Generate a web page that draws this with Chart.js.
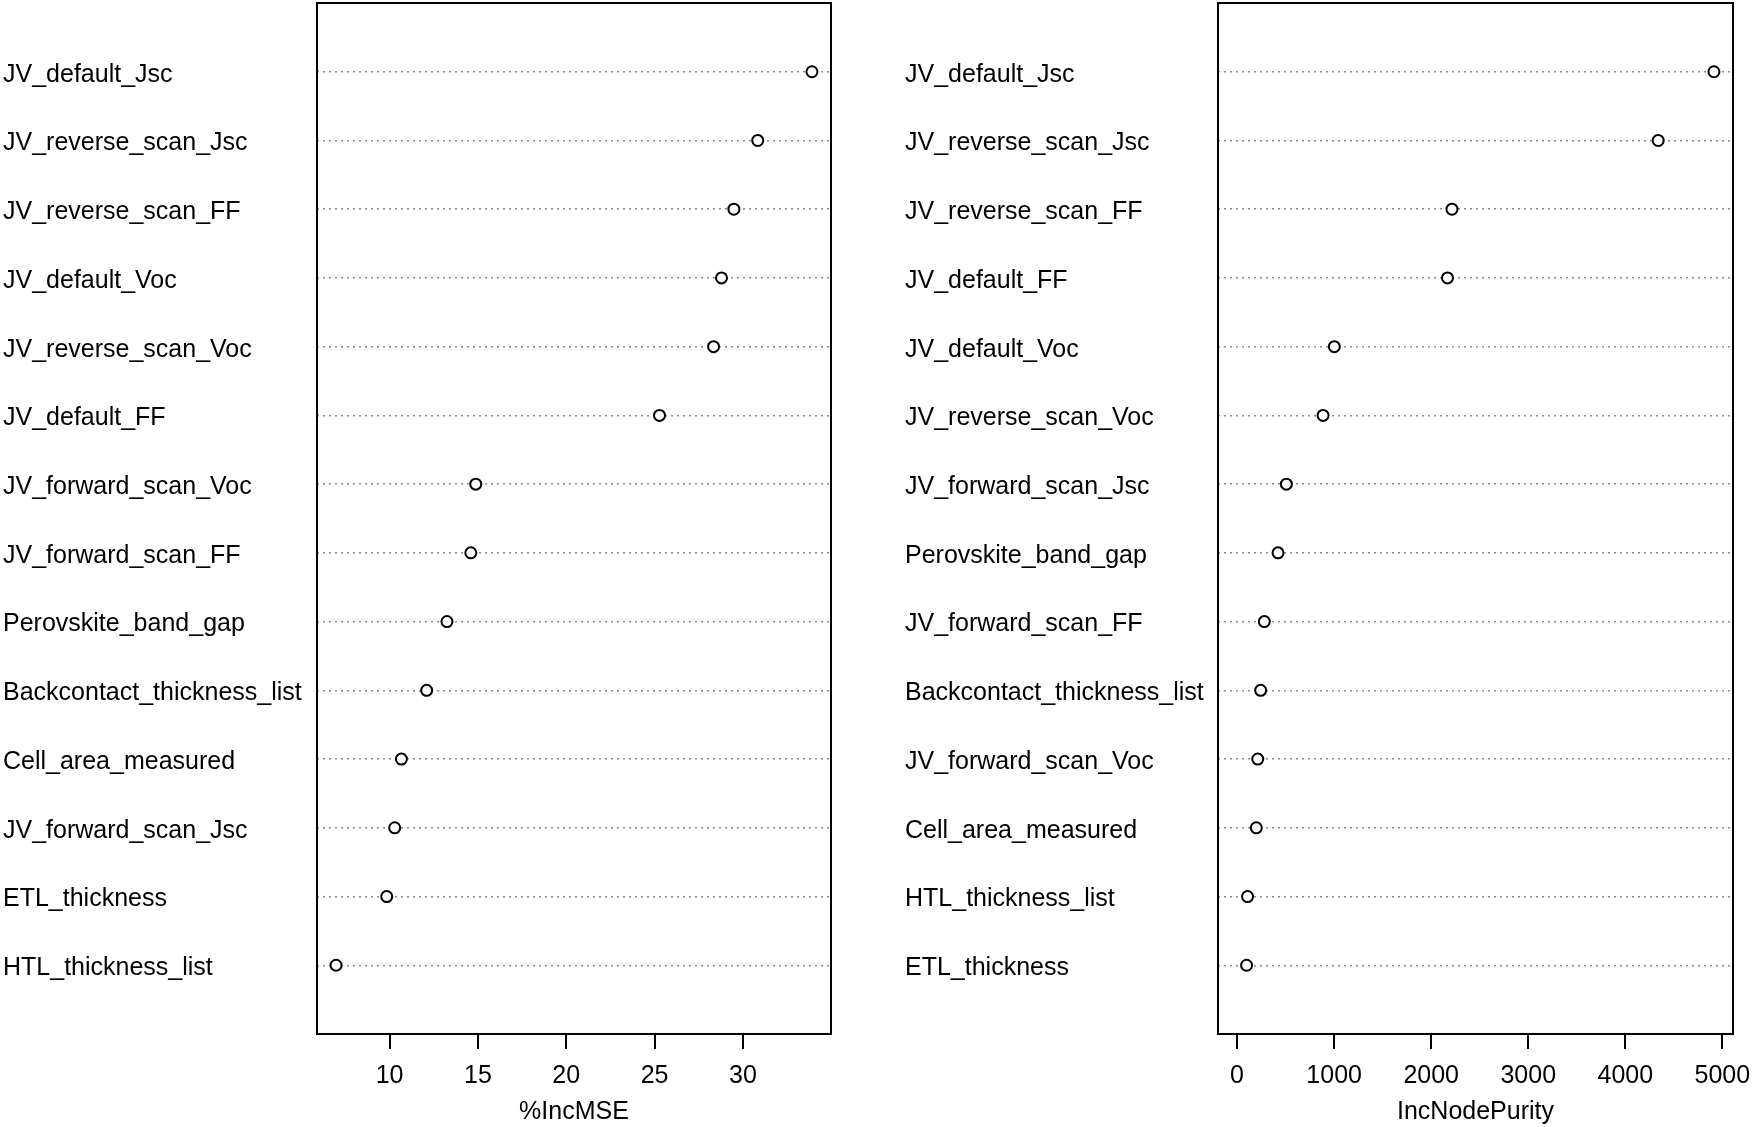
<!DOCTYPE html>
<html>
<head>
<meta charset="utf-8">
<script src="https://cdn.jsdelivr.net/npm/chart.js@4.4.1/dist/chart.umd.min.js"></script>
<style>
    body { margin: 0; background: #fff; width: 1755px; height: 1127px; overflow: hidden; position: relative; }
    canvas { position: absolute; top: 0; }
    #mse { left: 0; }
    #purity { left: 902px; }
</style>
</head>
<body>
<canvas id="mse" width="853" height="1127"></canvas>
<canvas id="purity" width="853" height="1127"></canvas>
<script>
// %IncMSE panel (top to bottom)
const mseLabels = [
    'JV_default_Jsc', 'JV_reverse_scan_Jsc', 'JV_reverse_scan_FF', 'JV_default_Voc',
    'JV_reverse_scan_Voc', 'JV_default_FF', 'JV_forward_scan_Voc', 'JV_forward_scan_FF',
    'Perovskite_band_gap', 'Backcontact_thickness_list', 'Cell_area_measured',
    'JV_forward_scan_Jsc', 'ETL_thickness', 'HTL_thickness_list'
];
const mseValues = [33.91, 30.84, 29.49, 28.79, 28.34, 25.28, 14.88, 14.60, 13.25, 12.10, 10.67, 10.29, 9.84, 6.97];
const mseTicks = [10, 15, 20, 25, 30];

// IncNodePurity panel (top to bottom)
const purityLabels = [
    'JV_default_Jsc', 'JV_reverse_scan_Jsc', 'JV_reverse_scan_FF', 'JV_default_FF',
    'JV_default_Voc', 'JV_reverse_scan_Voc', 'JV_forward_scan_Jsc', 'Perovskite_band_gap',
    'JV_forward_scan_FF', 'Backcontact_thickness_list', 'JV_forward_scan_Voc',
    'Cell_area_measured', 'HTL_thickness_list', 'ETL_thickness'
];
const purityValues = [4913, 4339, 2214, 2168, 1002, 886, 508, 422, 281, 243, 213, 198, 108, 98];
const purityTicks = [0, 1000, 2000, 3000, 4000, 5000];

const FONT = '"Liberation Sans", Arial, sans-serif';

// 外框
const boxPlugin = {
    id: 'box',
    afterDraw(chart) {
        const { ctx, chartArea: a } = chart;
        ctx.save();
        ctx.strokeStyle = '#000';
        ctx.lineWidth = 2;
        ctx.strokeRect(a.left, a.top, a.right - a.left, a.bottom - a.top);
        ctx.restore();
    }
};

function makeDotChart(id, labels, values, ticks, title, xmin, xmax, yWidth) {
    const ctx = document.getElementById(id).getContext('2d');
    const points = values.map((v, i) => ({ x: v, y: i + 1 }));
    // 跟 R dotchart 一樣，x 範圍各延伸 4%
    const pad = (xmax - xmin) * 0.04;

    return new Chart(ctx, {
        type: 'scatter',
        data: {
            datasets: [{
                data: points,
                pointRadius: 5.5,
                pointBorderWidth: 2,
                pointBackgroundColor: '#fff',
                pointBorderColor: '#000',
                showLine: false
            }]
        },
        options: {
            responsive: false,
            animation: false,
            layout: { autoPadding: false, padding: { left: 3, top: 3, right: 22, bottom: 0 } },
            plugins: { legend: { display: false }, tooltip: { enabled: false } },
            scales: {
                x: {
                    type: 'linear',
                    min: xmin - pad,
                    max: xmax + pad,
                    afterBuildTicks: scale => { scale.ticks = ticks.map(v => ({ value: v })); },
                    afterFit: scale => {
                        scale.height = 93;
                        scale.paddingLeft = 0;
                        scale.paddingRight = 0;
                    },
                    border: { display: false },
                    grid: {
                        drawOnChartArea: false,
                        drawTicks: true,
                        tickLength: 15,
                        color: '#000',
                        lineWidth: 2
                    },
                    ticks: {
                        color: '#000',
                        font: { family: FONT, size: 25 },
                        padding: 12,
                        maxRotation: 0,
                        callback: v => String(v)
                    },
                    title: {
                        display: true,
                        text: title,
                        color: '#000',
                        font: { family: FONT, size: 25 },
                        padding: { top: 0, bottom: 0 }
                    }
                },
                y: {
                    type: 'linear',
                    reverse: true,
                    min: 0,
                    max: labels.length + 1,
                    afterBuildTicks: scale => { scale.ticks = labels.map((l, i) => ({ value: i + 1 })); },
                    afterFit: scale => {
                        scale.width = yWidth;
                        scale.paddingTop = 0;
                        scale.paddingBottom = 0;
                    },
                    // 點線格線
                    border: { display: false, dash: [2, 4] },
                    grid: {
                        drawTicks: false,
                        color: '#8c8c8c',
                        lineWidth: 1.5
                    },
                    ticks: {
                        color: '#000',
                        font: { family: FONT, size: 25 },
                        crossAlign: 'far',
                        padding: 0,
                        labelOffset: 3,
                        callback: v => labels[v - 1]
                    }
                }
            }
        },
        plugins: [boxPlugin]
    });
}

makeDotChart('mse', mseLabels, mseValues, mseTicks, '%IncMSE', 6.97, 33.91, 314);
makeDotChart('purity', purityLabels, purityValues, purityTicks, 'IncNodePurity', 0, 4913, 313);
</script>
</body>
</html>
